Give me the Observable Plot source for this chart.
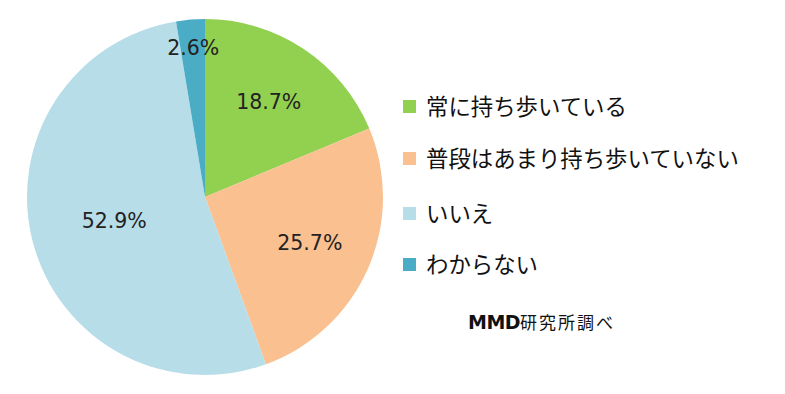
<!DOCTYPE html>
<html>
<head>
<meta charset="utf-8">
<script src="https://cdn.jsdelivr.net/npm/d3@7"></script>
<script src="https://cdn.jsdelivr.net/npm/@observablehq/plot@0.6"></script>
<style>
  html, body { margin: 0; padding: 0; background: #fff; }
  #wrap { position: relative; width: 785px; height: 394px; }
  #legend { position: absolute; left: 403px; top: 0; font-family: "Noto Sans CJK JP", sans-serif; font-size: 22.4px; color: #111; }
  .item { position: absolute; white-space: nowrap; display: flex; align-items: center; height: 26px; }
  .sw { width: 13px; height: 13px; margin-right: 10px; margin-top: 3px; }
  #credit { position: absolute; left: 468px; top: 309px; font-size: 19px; white-space: nowrap; color: #111; }
  #credit b { font-family: "DejaVu Sans", sans-serif; font-weight: 900; letter-spacing: -0.5px; }
  #credit span { font-family: "Noto Sans CJK JP", sans-serif; letter-spacing: 2px; font-size: 17px; }
</style>
</head>
<body>
<div id="wrap">
  <div id="chart"></div>
  <div id="legend"></div>
  <div id="credit"><b>MMD</b><span>研究所調べ</span></div>
</div>
<script>
const categories = ["常に持ち歩いている", "普段はあまり持ち歩いていない", "いいえ", "わからない"];
const values = [18.7, 25.7, 52.9, 2.6];
const labels = ["18.7%", "25.7%", "52.9%", "2.6%"];
const colors = ["#92d050", "#fac090", "#b7dde8", "#4bacc6"];

const data = categories.map((c, i) => ({category: c, value: values[i], label: labels[i]}));
const arcs = d3.pie().sort(null).value(d => d.value)(data);
const total = d3.sum(values);

// label positions in unit-circle coordinates derived from slice mid-angles
const labelData = arcs.map(a => {
  const mid = (a.startAngle + a.endAngle) / 2;
  const share = a.data.value / total;
  const r = share < 0.05 ? 0.84 : (share > 0.5 ? 0.53 : 0.64);
  return {label: a.data.label, x: r * Math.sin(mid), y: r * Math.cos(mid)};
});

const pieMark = (index, scales, values, dimensions, context) => {
  const cx = scales.x(0), cy = scales.y(0);
  const R = scales.x(1) - scales.x(0);
  const arc = d3.arc().innerRadius(0).outerRadius(R);
  const g = d3.create("svg:g").attr("transform", `translate(${cx},${cy})`);
  g.selectAll("path").data(arcs).join("path")
    .attr("d", arc)
    .attr("fill", d => scales.color(d.data.category));
  return g.node();
};

const chart = Plot.plot({
  width: 785,
  height: 394,
  margin: 0,
  x: {domain: [-1, 1], range: [27, 383], axis: null},
  y: {domain: [-1, 1], range: [375, 19], axis: null},
  color: {domain: categories, range: colors},
  style: {background: "#fff"},
  marks: [
    pieMark,
    Plot.text(labelData, {x: "x", y: "y", text: "label", fontSize: 20.5, fill: "#222",
      fontFamily: "DejaVu Sans", textAnchor: "middle"})
  ]
});
document.getElementById("chart").appendChild(chart);

const legend = document.getElementById("legend");
const rowY = [92, 144, 199, 250];
categories.forEach((c, i) => {
  const item = document.createElement("div");
  item.className = "item";
  item.style.top = rowY[i] + "px";
  item.innerHTML = `<div class="sw" style="background:${colors[i]}"></div><div>${c}</div>`;
  legend.appendChild(item);
});
</script>
</body>
</html>
